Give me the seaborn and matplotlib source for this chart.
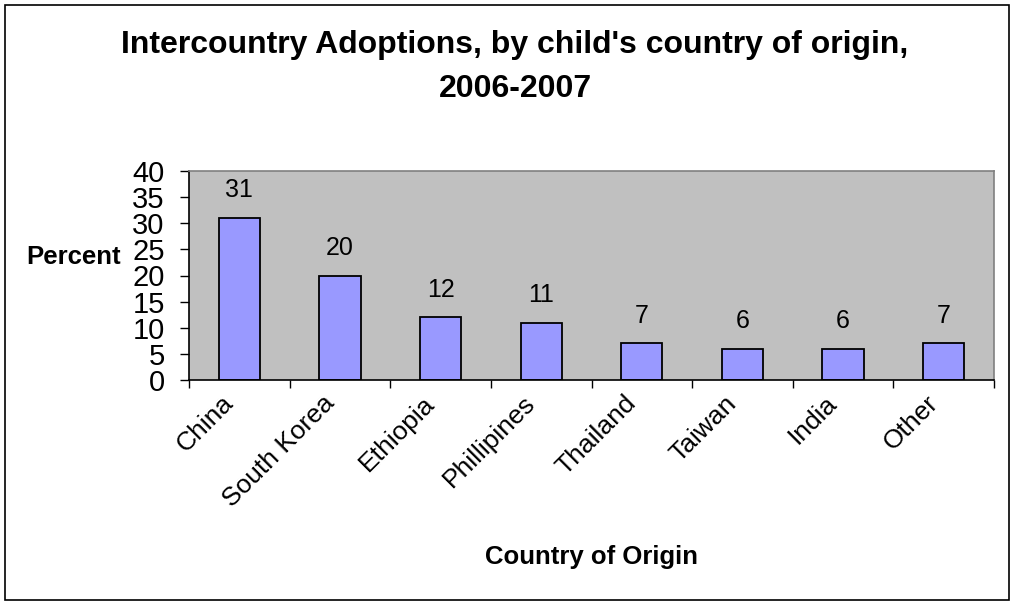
import matplotlib
matplotlib.use("Agg")
import matplotlib.pyplot as plt
import matplotlib.transforms as mtransforms
import seaborn as sns
import pandas as pd
from matplotlib.patches import Rectangle

countries = ["China", "South Korea", "Ethiopia", "Phillipines", "Thailand", "Taiwan", "India", "Other"]
percents = [31, 20, 12, 11, 7, 6, 6, 7]
y_ticks = [0, 5, 10, 15, 20, 25, 30, 35, 40]

sns.set_style("white")
plt.rcParams["font.family"] = ["Liberation Sans", "DejaVu Sans"]
plt.rcParams["text.color"] = "black"
plt.rcParams["axes.labelcolor"] = "black"
plt.rcParams["xtick.color"] = "black"
plt.rcParams["ytick.color"] = "black"

df = pd.DataFrame({"country": countries, "percent": percents})

fig = plt.figure(figsize=(10.13, 6.03), dpi=100)
ax = fig.add_axes([189 / 1013, 1 - 380 / 603, 805 / 1013, 209 / 603])
ax.set_facecolor("#C0C0C0")

sns.barplot(data=df, x="country", y="percent", color="#9999FF", width=0.41,
            edgecolor="black", linewidth=1.3, saturation=1, ax=ax)

for i, v in enumerate(percents):
    ax.annotate(str(v), (i, v), xytext=(0, 20), textcoords="offset points",
                ha="center", va="center", fontsize=18)

ax.set_xlim(-0.5, len(countries) - 0.5)
ax.set_ylim(0, 40)
ax.set_yticks(y_ticks)
ax.tick_params(axis="y", labelsize=21, length=6.5, width=1, direction="out", pad=11, left=True)
ax.set_xticks([i - 0.5 for i in range(len(countries) + 1)], minor=True)
ax.tick_params(axis="x", which="minor", length=6, width=1, direction="out", bottom=True)
ax.tick_params(axis="x", which="major", length=0, labelsize=19, pad=8)
shift = mtransforms.ScaledTranslation(-18 / 100, 0, fig.dpi_scale_trans)
for lab in ax.get_xticklabels():
    lab.set_rotation(45)
    lab.set_ha("right")
    lab.set_rotation_mode("anchor")
    lab.set_transform(lab.get_transform() + shift)

for side in ["left", "bottom"]:
    ax.spines[side].set_color("black")
    ax.spines[side].set_linewidth(1.2)
for side in ["top", "right"]:
    ax.spines[side].set_color("#808080")
    ax.spines[side].set_linewidth(1.2)

ax.set_xlabel("Country of Origin", fontsize=18.5, fontweight="bold")
ax.xaxis.set_label_coords(0.5, -(545 - 380) / 209)
ax.set_ylabel("Percent", fontsize=18.5, fontweight="bold", rotation=0, ha="right", va="center")
ax.yaxis.set_label_coords(-68 / 805, (380 - 257) / 209)

fig.text(515 / 1013, 1 - 67 / 603, "Intercountry Adoptions, by child's country of origin,\n2006-2007",
         ha="center", va="center", fontsize=23, fontweight="bold", linespacing=1.6)

fig.patches.append(Rectangle((5 / 1013, 3 / 603), 1004 / 1013, 595 / 603, transform=fig.transFigure,
                             fill=False, edgecolor="black", linewidth=1.2))

fig.savefig("out.png", dpi=100)
